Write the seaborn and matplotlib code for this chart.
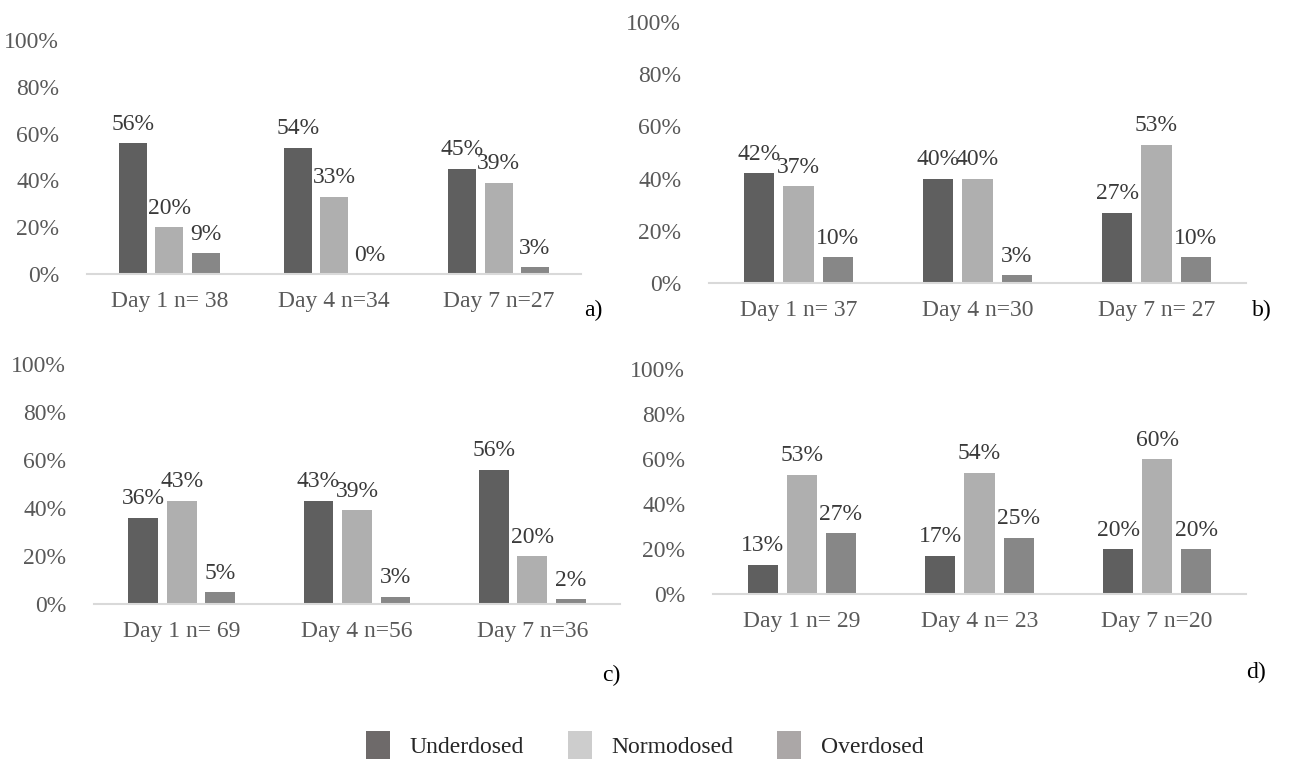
import matplotlib
matplotlib.use("Agg")
import matplotlib.pyplot as plt
import seaborn as sns
import pandas as pd
from matplotlib.patches import Patch

# ---- data ----
groups = ["Underdosed", "Normodosed", "Overdosed"]

cats_a = ["Day 1 n= 38", "Day 4 n=34", "Day 7 n=27"]
under_a = [56, 54, 45]
normo_a = [20, 33, 39]
over_a = [9, 0, 3]

cats_b = ["Day 1 n= 37", "Day 4 n=30", "Day 7 n= 27"]
under_b = [42, 40, 27]
normo_b = [37, 40, 53]
over_b = [10, 3, 10]

cats_c = ["Day 1 n= 69", "Day 4 n=56", "Day 7 n=36"]
under_c = [36, 43, 56]
normo_c = [43, 39, 20]
over_c = [5, 3, 2]

cats_d = ["Day 1 n= 29", "Day 4 n= 23", "Day 7 n=20"]
under_d = [13, 17, 20]
normo_d = [53, 54, 60]
over_d = [27, 25, 20]

panel_letters = ["a)", "b)", "c)", "d)"]
yticks = [0, 20, 40, 60, 80, 100]

bar_colors = ["#5f5f5f", "#afafaf", "#878787"]
legend_colors = ["#6e6a6a", "#cdcdcd", "#aba7a7"]

sns.set_theme(style="white")
plt.rcParams["font.family"] = ["Liberation Serif", "DejaVu Serif"]

FS = 17
tick_col = "#595959"
val_col = "#3a3a3a"

fig = plt.figure(figsize=(12.9, 7.62), dpi=100)
W, H = 1290, 762

# axes boxes in pixel coords: left, right, top(100%), bottom(0%)
boxes = [
    (87, 581, 40, 274),
    (709, 1246, 22, 283),
    (94, 620, 364, 604),
    (713, 1246, 369, 594),
]
panels = [
    (cats_a, under_a, normo_a, over_a),
    (cats_b, under_b, normo_b, over_b),
    (cats_c, under_c, normo_c, over_c),
    (cats_d, under_d, normo_d, over_d),
]
letter_pos = [(593, 310), (1262, 310), (611, 675), (1256, 672)]

for (l, r, t, b), (cats, u, n, o), lp, letter in zip(boxes, panels, letter_pos, panel_letters):
    ax = fig.add_axes([l / W, 1 - b / H, (r - l) / W, (b - t) / H])
    df = pd.DataFrame({
        "cat": cats * 3,
        "group": [groups[0]] * 3 + [groups[1]] * 3 + [groups[2]] * 3,
        "val": list(u) + list(n) + list(o),
    })
    sns.barplot(data=df, x="cat", y="val", hue="group", hue_order=groups,
                order=cats, palette=bar_colors, width=0.66, gap=0.23,
                saturation=1, edgecolor="none", legend=False, ax=ax)
    for cont in ax.containers:
        ax.bar_label(cont, fmt="%d%%", padding=6, fontsize=FS, color=val_col)
    ax.set_ylim(0, 100)
    ax.set_xlim(-0.5, 2.5)
    ax.set_yticks(yticks)
    ax.set_yticklabels([f"{v}%" for v in yticks])
    ax.set_xlabel("")
    ax.set_ylabel("")
    for s in ["top", "right", "left"]:
        ax.spines[s].set_visible(False)
    ax.spines["bottom"].set_color("#d9d9d9")
    ax.spines["bottom"].set_linewidth(1.5)
    ax.tick_params(axis="y", length=0, pad=20, labelsize=FS, labelcolor=tick_col)
    ax.tick_params(axis="x", length=0, pad=12, labelsize=FS, labelcolor=tick_col)
    ax.set_facecolor("none")
    ax.grid(False)
    fig.text(lp[0] / W, 1 - lp[1] / H, letter, fontsize=FS, color="#000000",
             ha="center", va="center")

handles = [Patch(facecolor=c, edgecolor="none") for c in legend_colors]
fig.legend(handles, groups, loc="center", bbox_to_anchor=(0.5, 1 - 745 / H),
           ncol=3, frameon=False, fontsize=FS, handlelength=1.0, handleheight=1.5,
           handletextpad=0.85, columnspacing=1.85)

fig.savefig("out.png", dpi=100, facecolor="white")
